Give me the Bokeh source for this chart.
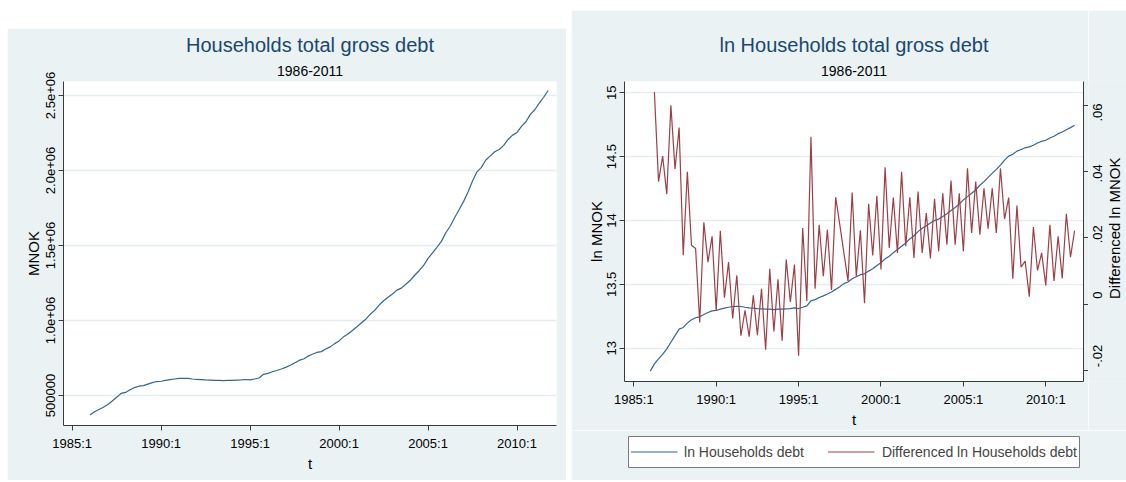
import math
import numpy as np
import pandas as pd
from bokeh.plotting import figure
from bokeh.core.properties import value
from bokeh.models import (Range1d, LinearAxis, FixedTicker, Title, Legend,
                          LegendItem, Spacer, ColumnDataSource)
from bokeh.layouts import row, column
from bokeh.embed import file_html
from bokeh.resources import INLINE

# ---------------- data (quarterly, 1986:1 - 2011:4) ----------------
quarters = pd.period_range("1986Q1", "2011Q4", freq="Q")
t = [q.year + (q.quarter - 1) / 4 for q in quarters]

debt_mnok = [
    369900, 391600, 407200, 422100, 440200, 463700, 488500, 514000, 520700, 538700,
    552900, 561900, 565800, 576100, 585400, 593000, 594800, 600800, 605600, 609900,
    613500, 614700, 613500, 609900, 606800, 605600, 603800, 602600, 600800, 600800,
    599000, 600800, 600800, 602600, 603800, 606800, 603800, 609900, 616600, 641200,
    647600, 658000, 666600, 676700, 687600, 701500, 716400, 733800, 743400, 762200,
    774500, 787000, 792500, 809400, 824100, 845800, 863700, 890900, 909800, 933800,
    958400, 983600, 1008500, 1041300, 1067700, 1102400, 1131400, 1154300, 1176400, 1202600,
    1215900, 1241700, 1268000, 1301400, 1331700, 1366800, 1414100, 1449900, 1488100, 1527300,
    1584800, 1629800, 1686200, 1739300, 1794000, 1856100, 1929900, 1990700, 2020800, 2069900,
    2097000, 2124400, 2139400, 2167300, 2206700, 2235500, 2253500, 2294400, 2324500, 2373800,
    2404900, 2448500, 2488000, 2533200,
]

ln_debt = [
    12.821, 12.878, 12.917, 12.953, 12.995, 13.047, 13.099, 13.150, 13.163, 13.197,
    13.223, 13.239, 13.246, 13.264, 13.280, 13.293, 13.296, 13.306, 13.314, 13.321,
    13.327, 13.329, 13.327, 13.321, 13.316, 13.314, 13.311, 13.309, 13.306, 13.306,
    13.303, 13.306, 13.306, 13.309, 13.311, 13.316, 13.311, 13.321, 13.332, 13.371,
    13.381, 13.397, 13.410, 13.425, 13.441, 13.461, 13.482, 13.506, 13.519, 13.544,
    13.560, 13.576, 13.583, 13.604, 13.622, 13.648, 13.669, 13.700, 13.721, 13.747,
    13.773, 13.799, 13.824, 13.856, 13.881, 13.913, 13.939, 13.959, 13.980, 14.000,
    14.011, 14.032, 14.053, 14.079, 14.102, 14.128, 14.162, 14.187, 14.213, 14.239,
    14.276, 14.304, 14.338, 14.369, 14.400, 14.434, 14.473, 14.504, 14.519, 14.543,
    14.556, 14.569, 14.576, 14.589, 14.607, 14.620, 14.628, 14.646, 14.659, 14.680,
    14.693, 14.711, 14.727, 14.745,
]

d_ln_debt = [float("nan"),
    0.0640, 0.0370, 0.0447, 0.0332, 0.0600, 0.0408, 0.0533, 0.0148, 0.0400, 0.0178,
    0.0168, -0.0055, 0.0247, 0.0127, 0.0205, -0.0020, 0.0222, 0.0020, 0.0127, -0.0043,
    0.0087, -0.0095, -0.0018, -0.0098, 0.0027, -0.0093, 0.0047, -0.0137, 0.0107, -0.0082,
    0.0075,
    -0.0110, 0.0135, 0.0007, 0.0120, -0.0155, 0.0230, 0.0010, 0.0505, 0.0047, 0.0240,
    0.0085, 0.0225, 0.0043, 0.0323, 0.0240, 0.0155, 0.0070, 0.0337, 0.0085, 0.0223,
    0.0003, 0.0303, 0.0147, 0.0327, 0.0105, 0.0413, 0.0170, 0.0322, 0.0155, 0.0400,
    0.0175, 0.0323, 0.0140, 0.0340, 0.0155, 0.0275, 0.0138, 0.0318,
    0.0160, 0.0335, 0.0180, 0.0373, 0.0180, 0.0335, 0.0160, 0.0410, 0.0215, 0.0370,
    0.0210, 0.0350, 0.0228, 0.0350, 0.0215, 0.0410, 0.0257, 0.0322, 0.0077, 0.0298,
    0.0112, 0.0130, 0.0023, 0.0233, 0.0102, 0.0155, 0.0057, 0.0240, 0.0070, 0.0205,
    0.0078, 0.0273, 0.0142, 0.0222,
]

x_ticks = [1985, 1990, 1995, 2000, 2005, 2010]
x_tick_labels = ["1985:1", "1990:1", "1995:1", "2000:1", "2005:1", "2010:1"]
lev_ticks = [500000, 1000000, 1500000, 2000000, 2500000]
lev_tick_labels = ["500000", "1.0e+06", "1.5e+06", "2.0e+06", "2.5e+06"]
ln_ticks = [13, 13.5, 14, 14.5, 15]
ln_tick_labels = ["13", "13.5", "14", "14.5", "15"]
d_ticks = [-0.02, 0, 0.02, 0.04, 0.06]
d_tick_labels = ["-.02", "0", ".02", ".04", ".06"]
legend_labels = ["ln Households debt", "Differenced ln Households debt"]

src = ColumnDataSource(dict(t=t, lev=debt_mnok, ln=ln_debt, d=d_ln_debt))

# ---------------- styling ----------------
FONT = "Liberation Sans"
BG = "#EAF2F3"
GRID = "#E3ECEE"
AXC = "#3a3a3a"
NAVY = "#1A476F"
BLUE_LINE = "#35658C"
RED_LINE = "#9C4047"


def style_axis(ax, tick_size="13px", label_size="15px"):
    ax.axis_line_color = AXC
    ax.axis_line_width = 1
    ax.major_tick_line_color = AXC
    ax.major_tick_out = 5
    ax.major_tick_in = 0
    ax.minor_tick_line_color = None
    ax.major_label_text_font = FONT
    ax.major_label_text_font_size = tick_size
    ax.major_label_text_color = "black"
    ax.axis_label_text_font = FONT
    ax.axis_label_text_font_size = label_size
    ax.axis_label_text_font_style = "normal"
    ax.axis_label_text_color = "black"


def add_titles(p, main, sub, s_sub, s_main):
    p.add_layout(Title(text=sub, align="center", vertical_align="bottom", text_font=FONT,
                       text_font_size="14px", text_font_style="normal",
                       text_color="black", standoff=s_sub), "above")
    p.add_layout(Title(text=main, align="center", vertical_align="bottom", text_font=FONT,
                       text_font_size="20px", text_font_style="normal",
                       text_color=NAVY, standoff=s_main), "above")


# ---------------- left panel ----------------
p1 = figure(width=559, height=452, output_backend="svg", toolbar_location=None,
            x_range=Range1d(1984.51, 2012.22), y_range=Range1d(300000, 2593000),
            min_border_left=56, min_border_right=10, min_border_top=53, min_border_bottom=55,
            background_fill_color="white", border_fill_color=BG, outline_line_color=None)
add_titles(p1, "Households total gross debt", "1986-2011", 12, 4)
p1.line("t", "lev", source=src, color=BLUE_LINE, line_width=1.2)

p1.xaxis.ticker = FixedTicker(ticks=x_ticks)
p1.xaxis.major_label_overrides = dict(zip(x_ticks, x_tick_labels))
p1.xaxis.axis_label = "t"
p1.yaxis.ticker = FixedTicker(ticks=lev_ticks)
p1.yaxis.major_label_overrides = dict(zip(lev_ticks, lev_tick_labels))
p1.yaxis.axis_label = "MNOK"
p1.yaxis.major_label_orientation = "vertical"
for ax in (p1.xaxis[0], p1.yaxis[0]):
    style_axis(ax)
p1.xaxis.major_label_standoff = 5
p1.xaxis.axis_label_standoff = 1
p1.yaxis.major_label_standoff = 3
p1.yaxis.axis_label_standoff = 2
p1.xgrid.visible = False
p1.ygrid.ticker = FixedTicker(ticks=lev_ticks)
p1.ygrid.grid_line_color = GRID
p1.ygrid.grid_line_width = 1.5

# ---------------- right panel (plot) ----------------
P2_TOP, P2_BOTTOM, P2_H = 71, 47, 420          # borders / height in px
d_lo, d_hi = -0.0233, 0.0672
p2 = figure(width=517, height=P2_H, output_backend="svg", toolbar_location=None,
            x_range=Range1d(1984.435, 2012.29), y_range=Range1d(12.74, 15.088),
            min_border_left=53, min_border_right=5, min_border_top=P2_TOP,
            min_border_bottom=P2_BOTTOM,
            background_fill_color="white", border_fill_color=BG, outline_line_color=None)
p2.extra_y_ranges = {"d": Range1d(d_lo, d_hi)}
add_titles(p2, "ln Households total gross debt", "1986-2011", 12, 4)
p2.line("t", "ln", source=src, color=BLUE_LINE, line_width=1.2)
p2.line("t", "d", source=src, color=RED_LINE, line_width=1.2, y_range_name="d")

p2.xaxis.ticker = FixedTicker(ticks=x_ticks)
p2.xaxis.major_label_overrides = dict(zip(x_ticks, x_tick_labels))
p2.xaxis.axis_label = "t"
p2.yaxis.ticker = FixedTicker(ticks=ln_ticks)
p2.yaxis.major_label_overrides = dict(zip(ln_ticks, ln_tick_labels))
p2.yaxis.axis_label = "ln MNOK"
p2.yaxis.major_label_orientation = "vertical"

rax = LinearAxis(y_range_name="d", ticker=FixedTicker(ticks=d_ticks),
                 major_label_overrides={k: "" for k in d_ticks})
p2.add_layout(rax, "right")

for ax in (p2.xaxis[0], p2.yaxis[0], rax):
    style_axis(ax)
p2.xaxis.major_label_standoff = 5
p2.xaxis.axis_label_standoff = 1
p2.yaxis.major_label_standoff = 3
p2.yaxis.axis_label_standoff = 0
rax.major_label_standoff = 0
p2.xgrid.visible = False
p2.ygrid.ticker = FixedTicker(ticks=ln_ticks)
p2.ygrid.grid_line_color = GRID
p2.ygrid.grid_line_width = 1.5

# ---------------- right-axis labels strip (reads bottom-to-top like the original) ----------------
frame_h = P2_H - P2_TOP - P2_BOTTOM
per_px = (d_hi - d_lo) / frame_h
PR_TOP, PR_BOTTOM = 61, 30
pr = figure(width=38, height=P2_H, output_backend="svg", toolbar_location=None,
            x_range=Range1d(0, 38),
            y_range=Range1d(d_lo - (P2_BOTTOM - PR_BOTTOM) * per_px,
                            d_hi + (P2_TOP - PR_TOP) * per_px),
            min_border_left=0, min_border_right=0, min_border_top=PR_TOP,
            min_border_bottom=PR_BOTTOM, x_axis_type=None, y_axis_type=None,
            background_fill_color=BG, border_fill_color=BG, outline_line_color=None)
pr.xgrid.visible = False
pr.ygrid.visible = False
pr.text(x=[9] * len(d_ticks), y=d_ticks, text=d_tick_labels, angle=math.pi / 2,
        text_align="center", text_baseline="middle", text_font=value(FONT),
        text_font_size="13px", text_color="black")
pr.text(x=[25.5], y=[(d_lo + d_hi) / 2], text=["Differenced ln MNOK"], angle=math.pi / 2,
        text_align="center", text_baseline="middle", text_font=value(FONT),
        text_font_size="15px", text_color="black")

# ---------------- legend strip ----------------
lg = figure(width=555, height=50, output_backend="svg", toolbar_location=None,
            x_range=Range1d(0, 1), y_range=Range1d(0, 1),
            min_border_left=57, min_border_right=47, min_border_top=6, min_border_bottom=13,
            x_axis_type=None, y_axis_type=None,
            background_fill_color="white", border_fill_color=BG,
            outline_line_color="#7a7a7a", outline_line_width=1)
lg.xgrid.visible = False
lg.ygrid.visible = False
# key renderers: the same series, drawn far outside this strip's visible ranges
k1 = lg.line("t", "ln", source=src, color=BLUE_LINE, line_width=1.2)
k2 = lg.line("t", "d", source=src, color=RED_LINE, line_width=1.2)
legend = Legend(items=[LegendItem(label=legend_labels[0], renderers=[k1]),
                       LegendItem(label=legend_labels[1], renderers=[k2])],
                orientation="horizontal", location="center",
                label_text_font=FONT, label_text_font_size="14px",
                glyph_width=47, glyph_height=15, label_height=15,
                label_standoff=7, spacing=24, padding=8, margin=0,
                border_line_color=None, background_fill_alpha=0)
lg.add_layout(legend, "center")

layout = row(Spacer(width=7, height=10),
             column(Spacer(width=559, height=28), p1),
             Spacer(width=5, height=10),
             column(Spacer(width=555, height=10), row(p2, pr), lg))

open("out.html", "w").write(file_html(layout, INLINE))
